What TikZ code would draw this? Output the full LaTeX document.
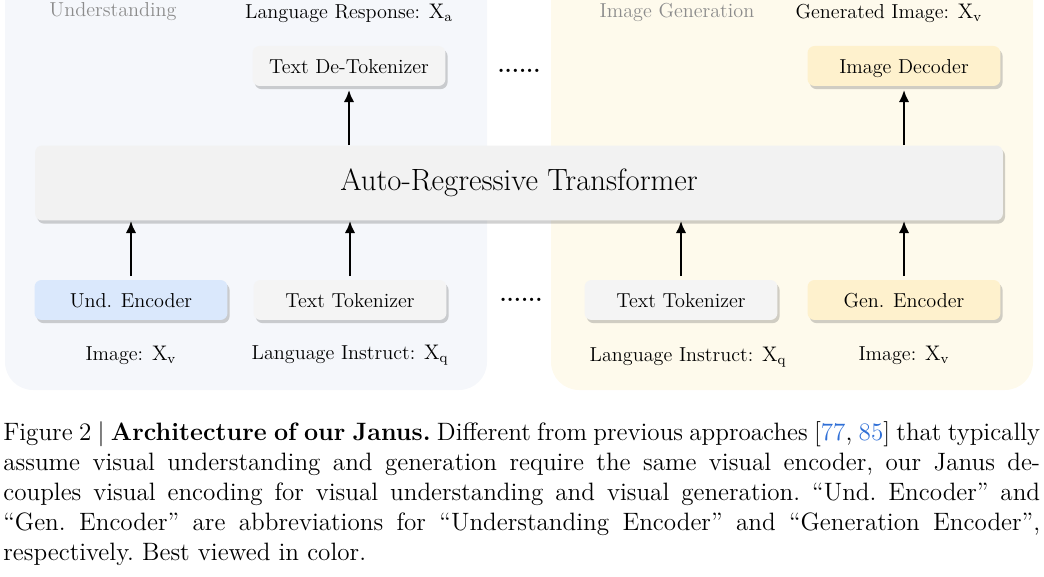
\documentclass[tikz,border=0pt]{standalone}
\usepackage{amsmath}
\usepackage{tikz}
\usetikzlibrary{shadows,arrows.meta}

\definecolor{undbg}{HTML}{F5F7FB}
\definecolor{genbg}{HTML}{FEFAEC}
\definecolor{boxgray}{HTML}{F4F4F4}
\definecolor{artgray}{HTML}{F2F2F2}
\definecolor{undblue}{HTML}{DAE8FC}
\definecolor{genyellow}{HTML}{FEF1CD}
\definecolor{titlegray}{HTML}{8C8C8C}
\definecolor{citeblue}{HTML}{2F6FD6}

\begin{document}
\begin{tikzpicture}[x=0.02cm,y=-0.02cm,
  block/.style={rounded corners=4pt,minimum width=3.86cm,minimum height=0.8cm,
    text height=2.1ex,text depth=0.1ex,
    font=\fontsize{11.5}{13}\selectfont,
    drop shadow={shadow xshift=1.2pt,shadow yshift=-1.8pt,opacity=0.3,fill=black!60}},
  lbl/.style={font=\fontsize{11.5}{13}\selectfont},
  paneltitle/.style={font=\fontsize{11.5}{13}\selectfont,text=titlegray},
  dotsep/.style={font=\fontsize{13}{13}\selectfont\bfseries},
  arr/.style={line width=1.4pt,-{Latex[length=7pt,width=6pt]}}]
\useasboundingbox (0,0) rectangle (1044,577);

\fill[undbg,rounded corners=0.56cm] (5,-40) rectangle (487,390);
\fill[genbg,rounded corners=0.56cm] (551,-40) rectangle (1033,390);

\node[paneltitle] (undtitle) at (113,12) {Understanding};
\node[paneltitle] (gentitle) at (677,12) {Image Generation};
\node[lbl] (resp) at (349,13) {Language Response: $\mathrm{X_a}$};
\node[lbl] (genimg) at (889,13) {Generated Image: $\mathrm{X_v}$};

\node[block,fill=boxgray] (detok) at (349,66) {Text De-Tokenizer};
\node[block,fill=genyellow] (imgdec) at (904,66) {Image Decoder};
\node[dotsep] (dotstop) at (519,71) {......};

\node[block,fill=artgray,minimum width=19.36cm,minimum height=1.5cm,
  text height=,text depth=,font=\fontsize{17.5}{19}\selectfont] (art) at (519,183) {Auto-Regressive Transformer};

\node[block,fill=undblue] (undenc) at (131,300) {Und. Encoder};
\node[block,fill=boxgray] (txttok) at (350,300) {Text Tokenizer};
\node[dotsep] (dotsbot) at (521,300) {......};
\node[block,fill=boxgray] (txttok2) at (681,300) {Text Tokenizer};
\node[block,fill=genyellow] (genenc) at (904,300) {Gen. Encoder};

\node[lbl] (imgin) at (131,355) {Image: $\mathrm{X_v}$};
\node[lbl] (instr) at (350,355) {Language Instruct: $\mathrm{X_q}$};
\node[lbl] (instr2) at (688,357) {Language Instruct: $\mathrm{X_q}$};
\node[lbl] (imgin2) at (904,355) {Image: $\mathrm{X_v}$};

\draw[arr] (art.north -| detok.south) -- ([yshift=-2pt]detok.south);
\draw[arr] (art.north -| imgdec.south) -- ([yshift=-2pt]imgdec.south);
\draw[arr] ([yshift=2pt]undenc.north) -- (undenc.north |- art.south);
\draw[arr] ([yshift=2pt]txttok.north) -- (txttok.north |- art.south);
\draw[arr] ([yshift=2pt]txttok2.north) -- (txttok2.north |- art.south);
\draw[arr] ([yshift=2pt]genenc.north) -- (genenc.north |- art.south);

\node[anchor=north west,inner sep=0pt] (caption) at (3,421) {\parbox{20.74cm}{%
\fontsize{14.3}{17.1}\selectfont\frenchspacing
Figure 2 | \textbf{Architecture of our Janus.} Different from previous approaches [\textcolor{citeblue}{77}, \textcolor{citeblue}{85}] that typically\linebreak
assume visual understanding and generation require the same visual encoder, our Janus de-\linebreak
couples visual encoding for visual understanding and visual generation. “Und. Encoder” and\linebreak
“Gen. Encoder” are abbreviations for “Understanding Encoder” and “Generation Encoder”,\linebreak
respectively. Best viewed in color.}};
\end{tikzpicture}
\end{document}
